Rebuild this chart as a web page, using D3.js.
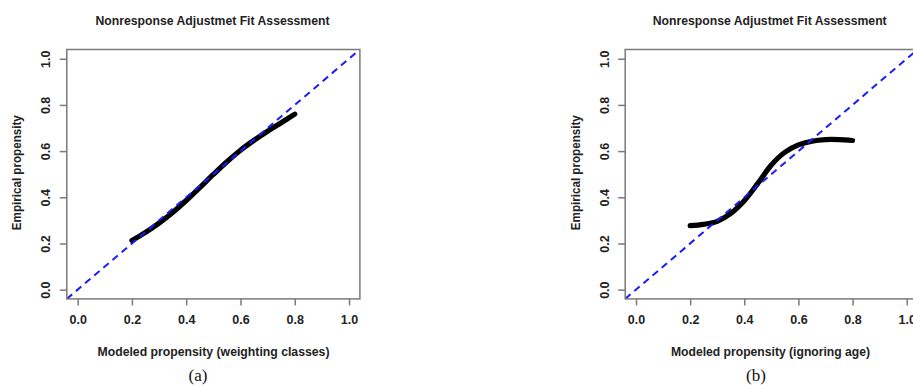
<!DOCTYPE html>
<html>
<head>
<title>Nonresponse Adjustmet Fit Assessment</title>
<script charset="utf-8" src="https://d3js.org/d3.v7.min.js"></script>
<style>
  body { margin: 0; background: #fff; }
  text { font-family: "Liberation Sans", Arial, sans-serif; fill: #222; }
  .caption { font-family: "Liberation Serif", "Times New Roman", serif; fill: #111; }
</style>
</head>
<body>
<div id="chart"></div>
<script>
// values
var tickValues = [0, 0.2, 0.4, 0.6, 0.8, 1.0];
var modeled = [0.2, 0.25, 0.3, 0.35, 0.4, 0.45, 0.5, 0.55, 0.6, 0.65, 0.7, 0.75, 0.8];
var empiricalA = [0.213, 0.248, 0.288, 0.334, 0.386, 0.442, 0.499, 0.554, 0.604, 0.647, 0.686, 0.723, 0.76];
var empiricalB = [0.277, 0.283, 0.296, 0.33, 0.385, 0.46, 0.54, 0.595, 0.627, 0.643, 0.65, 0.65, 0.646];

var panels = [
  { title: "Nonresponse Adjustmet Fit Assessment", xlab: "Modeled propensity (weighting classes)",
    caption: "(a)", values: empiricalA, left: 66.8, right: 359.9, titleX: 212.5, xlabX: 213.5, xlabW: 232, capX: 198 },
  { title: "Nonresponse Adjustmet Fit Assessment", xlab: "Modeled propensity (ignoring age)",
    caption: "(b)", values: empiricalB, left: 625.2, right: 917.5, titleX: 769.7, xlabX: 770.5, xlabW: 199, capX: 756 }
];

var width = 913, height = 387, plotTop = 49.5, plotBottom = 298.9;

var svg = d3.select("#chart").append("svg")
    .attr("width", width)
    .attr("height", height);

panels.forEach(function(p, i) {
  var x = d3.scaleLinear().domain([-0.04, 1.04]).range([p.left, p.right]);
  var y = d3.scaleLinear().domain([-0.04, 1.04]).range([plotBottom, plotTop]);
  var g = svg.append("g");

  g.append("clipPath").attr("id", "clip" + i)
    .append("rect")
      .attr("x", p.left).attr("y", plotTop)
      .attr("width", p.right - p.left).attr("height", plotBottom - plotTop);

  // fitted curve
  var line = d3.line()
      .x(function(d, j) { return x(modeled[j]); })
      .y(function(d) { return y(d); })
      .curve(d3.curveCatmullRom);

  g.append("path")
      .datum(p.values)
      .attr("d", line)
      .attr("fill", "none")
      .attr("stroke", "#000")
      .attr("stroke-width", 5.2)
      .attr("stroke-linecap", "round");

  // 45 degree reference line
  g.append("line")
      .attr("clip-path", "url(#clip" + i + ")")
      .attr("x1", x(-0.04)).attr("y1", y(-0.04))
      .attr("x2", x(1.04)).attr("y2", y(1.04))
      .attr("stroke", "#1a1aff")
      .attr("stroke-width", 2)
      .attr("stroke-dasharray", "7,5");

  // box
  g.append("rect")
      .attr("x", p.left).attr("y", plotTop)
      .attr("width", p.right - p.left).attr("height", plotBottom - plotTop)
      .attr("fill", "none")
      .attr("stroke", "#7a7a7a")
      .attr("stroke-width", 1.5);

  // axes
  var xAxis = g.append("g")
      .attr("transform", "translate(0," + plotBottom + ")")
      .call(d3.axisBottom(x).tickValues(tickValues).tickSize(6.5).tickPadding(10).tickFormat(d3.format(".1f")));
  xAxis.select(".domain").remove();
  xAxis.selectAll("line").attr("stroke", "#7a7a7a").attr("stroke-width", 1.5);
  xAxis.selectAll("text")
      .style("font-family", "Liberation Sans, Arial, sans-serif")
      .style("font-size", "12.5px").style("font-weight", "bold").attr("fill", "#333");

  var yAxis = g.append("g")
      .attr("transform", "translate(" + p.left + ",0)")
      .call(d3.axisLeft(y).tickValues(tickValues).tickSize(7).tickFormat(d3.format(".1f")));
  yAxis.select(".domain").remove();
  yAxis.selectAll("line").attr("stroke", "#7a7a7a").attr("stroke-width", 1.5);
  yAxis.selectAll("text")
      .attr("x", null).attr("dy", null)
      .attr("text-anchor", "middle")
      .attr("transform", "translate(-16.5,0) rotate(-90)")
      .style("font-family", "Liberation Sans, Arial, sans-serif")
      .style("font-size", "12.5px").style("font-weight", "bold").attr("fill", "#333");

  // title and labels
  g.append("text")
      .attr("x", p.titleX).attr("y", 25)
      .attr("text-anchor", "middle")
      .attr("textLength", 234).attr("lengthAdjust", "spacingAndGlyphs")
      .style("font-size", "13px").style("font-weight", "bold")
      .text(p.title);

  g.append("text")
      .attr("x", p.xlabX).attr("y", 356)
      .attr("text-anchor", "middle")
      .attr("textLength", p.xlabW).attr("lengthAdjust", "spacingAndGlyphs")
      .style("font-size", "12.5px").style("font-weight", "bold")
      .text(p.xlab);

  g.append("text")
      .attr("transform", "translate(" + (p.left - 45.5) + "," + ((plotTop + plotBottom) / 2 - 1.5) + ") rotate(-90)")
      .attr("text-anchor", "middle")
      .attr("textLength", 115).attr("lengthAdjust", "spacingAndGlyphs")
      .style("font-size", "12.5px").style("font-weight", "bold")
      .text("Empirical propensity");

  g.append("text")
      .attr("class", "caption")
      .attr("x", p.capX).attr("y", 381)
      .attr("text-anchor", "middle")
      .style("font-size", "17px")
      .text(p.caption);
});
</script>
</body>
</html>
